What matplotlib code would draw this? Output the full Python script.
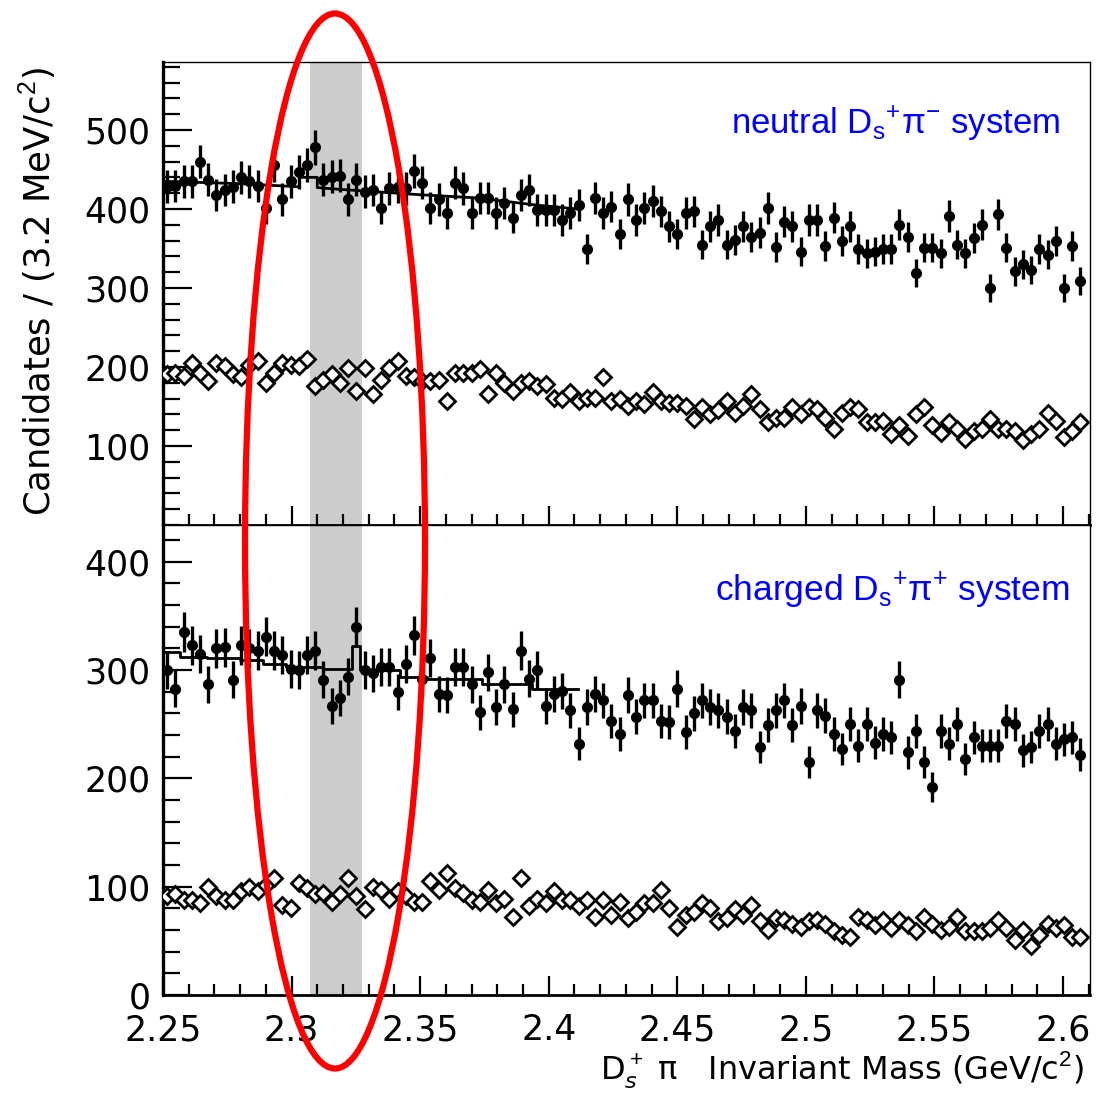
import numpy as np
import matplotlib
matplotlib.use("Agg")
import matplotlib.pyplot as plt
from matplotlib.patches import Ellipse
from matplotlib.ticker import MultipleLocator, FixedLocator

# ---------------- data ----------------
BIN_WIDTH = 0.0032
X_START = 2.25
N_BINS = 112

neutral_signal = [428, 429, 435, 435, 460, 437, 418, 424, 428, 440, 435, 429, 401, 456, 412, 435,
                  447, 456, 478, 437, 441, 442, 412, 437, 422, 424, 401, 426, 428, 426, 448, 433,
                  401, 412, 395, 433, 426, 395,
                  414, 414, 395, 407, 389, 418, 424, 399, 399, 399, 386, 395, 405, 349, 414, 395,
                  403, 368, 412, 386, 401, 410, 397, 378, 368, 395, 397, 355, 378, 386, 355, 361,
                  378, 365, 370, 401, 352,
                  384, 378, 346, 386, 386, 353, 389, 359, 378, 349, 344, 346, 349, 349, 380, 365,
                  319, 351, 351, 344, 391, 355, 344, 363, 380, 300, 393, 351, 321, 330, 323, 349,
                  342, 359, 300, 353, 309]

neutral_sideband = [191, 193, 189, 205, 193, 182, 205, 201, 191, 187, 203, 208, 180, 193, 205, 203,
                    201, 210, 176, 184, 191, 180, 199, 170, 199, 166, 184, 199, 208, 189, 187, 182,
                    182, 184, 157, 193, 193,
                    193, 197, 166, 193, 180, 170, 180, 182, 176, 178, 161, 159, 168, 157, 161, 161,
                    187, 157, 159, 151, 157, 153, 168, 157, 155, 155, 151, 134, 149, 140, 145, 157,
                    142, 151, 166, 147, 130,
                    136, 136, 149, 140, 149, 147, 136, 121, 142, 149, 147, 130, 130, 132, 115, 126,
                    113, 140, 149, 126, 117, 130, 121, 109, 119, 121, 134, 121, 121, 119, 107, 115,
                    121, 142, 132, 111, 119, 130]

charged_signal = [300, 283, 335, 323, 315, 287, 320, 321, 291, 323, 320, 318, 331, 318, 314, 301,
                  300, 314, 318, 291, 267, 274, 294, 340, 300, 297, 303, 303, 280, 306, 332, 292,
                  311, 278, 277, 303, 303, 287,
                  261, 298, 266, 287, 264, 318, 292, 300, 267, 278, 281, 263, 232, 266, 278, 272,
                  253, 241, 277, 257, 272, 272, 253, 252, 283, 243, 260, 272, 266, 263, 257, 244,
                  266, 263, 229, 249, 263,
                  272, 249, 267, 215, 263, 258, 241, 227, 250, 230, 250, 233, 241, 238, 291, 224,
                  244, 215, 192, 244, 232, 250, 218, 238, 230, 230, 230, 253, 250, 226, 229, 244,
                  250, 232, 236, 238, 222]

charged_sideband = [91, 93, 88, 88, 85, 100, 91, 88, 88, 96, 100, 96, 102, 108, 83, 80,
                    103, 99, 93, 94, 86, 93, 108, 91, 79, 100, 97, 89, 96, 91, 86, 86,
                    105, 97, 113, 99, 94, 88,
                    86, 97, 85, 89, 72, 108, 82, 89, 85, 96, 88, 88, 82, 88, 72, 88,
                    74, 86, 71, 77, 85, 85, 97, 80, 63, 74, 77, 85, 80, 68, 71, 79,
                    74, 83, 68, 60,
                    71, 69, 66, 63, 68, 69, 66, 59, 55, 54, 72, 69, 65, 69, 62, 69,
                    65, 59, 72, 66, 60, 63, 72, 59, 59, 59, 62, 69, 62, 51, 60, 45,
                    55, 66, 62, 65, 54, 54]

# fit curves
neutral_fit_x = [2.25, 2.280, 2.303, 2.303, 2.310, 2.310, 2.318, 2.350, 2.372, 2.395, 2.411]
neutral_fit_y = [435, 432, 428, 440, 440, 427, 425, 418, 414, 405, 400]
charged_fit_x = [2.25, 2.2566, 2.2566, 2.267, 2.267, 2.280, 2.280, 2.289, 2.289, 2.298, 2.298,
                 2.3124, 2.3124, 2.3234, 2.3234, 2.3266, 2.3266, 2.3422, 2.3422, 2.3526, 2.3526,
                 2.374, 2.374, 2.3934, 2.3934, 2.4115]
charged_fit_y = [317, 317, 312, 312, 311, 311, 309, 309, 306, 306, 303, 303, 301, 301, 322, 322,
                 300, 300, 294, 294, 292, 292, 287, 287, 283, 283]

signal_band = [2.3072, 2.3274]
x_tick_labels = ["2.25", "2.3", "2.35", "2.4", "2.45", "2.5", "2.55", "2.6"]
top_label = "neutral D$_\\mathregular{s}$$^\\mathregular{+}$\u03c0$^\\mathregular{-}$ system"
bot_label = "charged D$_\\mathregular{s}$$^\\mathregular{+}$\u03c0$^\\mathregular{+}$ system"
y_title = "Candidates / (3.2 MeV/c$^2$)"
x_title = "D$_s^+$ \u03c0   Invariant Mass (GeV/c$^2$)"

OPEN_ERR = 7

x_centers = X_START + BIN_WIDTH * (np.arange(N_BINS) + 0.5)

# ---------------- figure ----------------
W, H = 1096, 1094
fig = plt.figure(figsize=(W / 100, H / 100), dpi=100)
plt.rcParams['font.family'] = ['DejaVu Sans']
plt.rcParams['mathtext.fontset'] = 'custom'
plt.rcParams['mathtext.rm'] = 'Liberation Sans'

left = 163 / W
right = 1090 / W
y_top = 1 - 62 / H
y_mid = 1 - 525 / H
y_bot = 1 - 995 / H

ax1 = fig.add_axes([left, y_mid, right - left, y_top - y_mid])
ax2 = fig.add_axes([left, y_bot, right - left, y_mid - y_bot], sharex=ax1)

def draw_panel(ax, sig, side, fx, fy, ylim, yticks):
    ax.axvspan(signal_band[0], signal_band[1], color="#cccccc", zorder=0, lw=0)
    sig = np.asarray(sig, float)
    side = np.asarray(side, float)
    ax.errorbar(x_centers, sig, yerr=np.sqrt(sig), fmt="o", color="black", ms=7,
                elinewidth=2.4, capsize=0, zorder=3)
    ax.errorbar(x_centers, side, yerr=OPEN_ERR, fmt="D", color="black", mfc="white",
                ms=8, mew=2.0, elinewidth=1.8, capsize=0, zorder=3)
    ax.plot(fx, fy, color="black", lw=2.0, zorder=4)
    ax.set_xlim(2.25, 2.6105)
    ax.set_ylim(*ylim)
    ax.yaxis.set_major_locator(FixedLocator(yticks))
    ax.yaxis.set_minor_locator(MultipleLocator(20))
    ax.xaxis.set_major_locator(MultipleLocator(0.05))
    ax.xaxis.set_minor_locator(MultipleLocator(0.01))
    ax.tick_params(axis="y", which="major", direction="in", length=21, width=1.6,
                   labelsize=25, pad=9, right=False)
    ax.tick_params(axis="y", which="minor", direction="in", length=12, width=1.6, right=False)
    ax.tick_params(axis="x", which="major", direction="in", length=14, width=1.6,
                   labelsize=25, pad=13, top=False)
    ax.tick_params(axis="x", which="minor", direction="in", length=8, width=1.6, top=False)
    for s in ["top", "right"]:
        ax.spines[s].set_linewidth(1.0)
    ax.spines["left"].set_linewidth(2.4)
    ax.spines["bottom"].set_linewidth(2.0)

draw_panel(ax1, neutral_signal, neutral_sideband, neutral_fit_x, neutral_fit_y,
           (0, 586), [100, 200, 300, 400, 500])
draw_panel(ax2, charged_signal, charged_sideband, charged_fit_x, charged_fit_y,
           (0, 434), [0, 100, 200, 300, 400])
plt.setp(ax1.get_xticklabels(), visible=False)
ax2.set_xticks([2.25, 2.3, 2.35, 2.4, 2.45, 2.5, 2.55, 2.6])
ax2.set_xticklabels(x_tick_labels)

ax1.text(0.968, 0.870, top_label, transform=ax1.transAxes, ha="right", va="center",
         fontsize=25, color="#0000ff", family="Liberation Sans",
         bbox=dict(facecolor="white", edgecolor="none", pad=4), zorder=6)
ax2.text(0.978, 0.862, bot_label, transform=ax2.transAxes, ha="right", va="center",
         fontsize=25.5, color="#0000ff", family="Liberation Sans",
         bbox=dict(facecolor="white", edgecolor="none", pad=4), zorder=6)

fig.text(38 / W, 1 - 292 / H, y_title, rotation=90,
         ha="center", va="center", fontsize=25.5)
fig.text(1084 / W, 1 - 1070 / H, x_title,
         ha="right", va="center", fontsize=23)

ell = Ellipse((335 / W, 1 - 541 / H), 180 / W, 1055 / H, transform=fig.transFigure,
              fill=False, edgecolor="#ff0000", lw=4.5, zorder=10)
fig.patches.append(ell)

fig.savefig("out.png", dpi=100)
